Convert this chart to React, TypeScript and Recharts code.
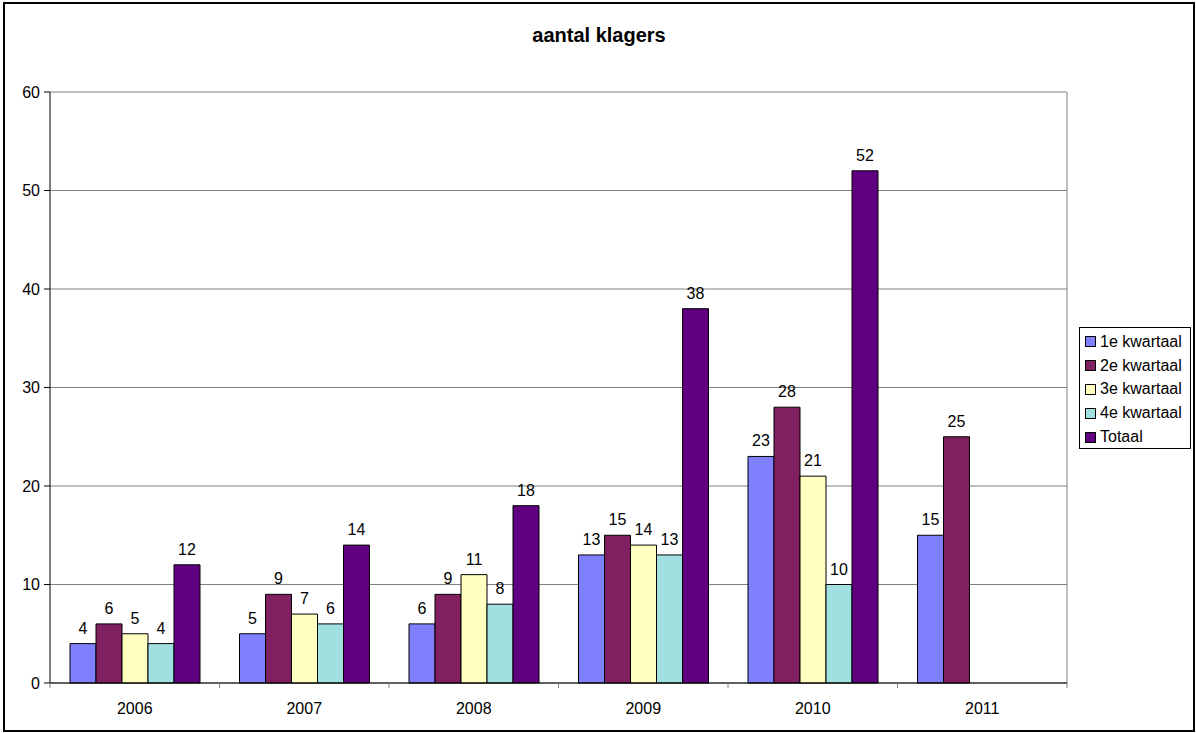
import React from 'react';
import {
  BarChart, Bar, XAxis, YAxis, CartesianGrid, LabelList,
} from 'recharts';

const years = ['2006', '2007', '2008', '2009', '2010', '2011'];
const q1 = [4, 5, 6, 13, 23, 15];
const q2 = [6, 9, 9, 15, 28, 25];
const q3 = [5, 7, 11, 14, 21, null];
const q4 = [4, 6, 8, 13, 10, null];
const totaal = [12, 14, 18, 38, 52, null];
const yTicks = [0, 10, 20, 30, 40, 50, 60];

const series = [
  { key: 'q1', name: '1e kwartaal', color: '#8080FF' },
  { key: 'q2', name: '2e kwartaal', color: '#802060' },
  { key: 'q3', name: '3e kwartaal', color: '#FFFFC0' },
  { key: 'q4', name: '4e kwartaal', color: '#A0E0E0' },
  { key: 'totaal', name: 'Totaal', color: '#600080' },
];

const data = years.map((year, i) => ({
  year,
  q1: q1[i],
  q2: q2[i],
  q3: q3[i],
  q4: q4[i],
  totaal: totaal[i],
}));

const FONT = '"Liberation Sans", Arial, sans-serif';
const TICK_SIZE = 6;
const TICK_MARGIN = 14;

// Excel-style category axis: tick marks sit between the categories
function YearTick(props: any) {
  const { x, y, payload, index, visibleTicksCount } = props;
  const half = payload.offset || 0;
  const axisY = y - TICK_SIZE - TICK_MARGIN;
  return (
    <g>
      <line x1={x - half} x2={x - half} y1={axisY} y2={axisY + 5} stroke="#808080" />
      {index === visibleTicksCount - 1 && (
        <line x1={x + half} x2={x + half} y1={axisY} y2={axisY + 5} stroke="#808080" />
      )}
      <text x={x} y={y} dy="0.71em" textAnchor="middle" fill="#000" fontSize={16} fontFamily={FONT}>
        {payload.value}
      </text>
    </g>
  );
}

function LegendBox() {
  return (
    <div style={{
      position: 'absolute', left: 1079, top: 327, width: 112, height: 122,
      border: '1px solid #000', background: '#fff', padding: '2px 0 0 5px',
      fontFamily: FONT, fontSize: 16, color: '#000', boxSizing: 'border-box',
    }}>
      {series.map(s => (
        <div key={s.key} style={{ display: 'flex', alignItems: 'center', height: 23.8, whiteSpace: 'nowrap' }}>
          <span style={{
            display: 'inline-block', width: 9, height: 9, background: s.color,
            border: '1px solid #000', marginRight: 4, flexShrink: 0,
          }} />
          <span>{s.name}</span>
        </div>
      ))}
    </div>
  );
}

export default function App() {
  return (
    <div style={{ position: 'absolute', left: 0, top: 0, width: 1196, height: 733, background: '#fff', fontFamily: FONT }}>
      <div style={{
        position: 'absolute', left: 3, top: 2, width: 1192, height: 730,
        border: '2px solid #000', boxSizing: 'border-box',
      }} />
      <div style={{
        position: 'absolute', left: 0, width: 1198, top: 24, textAlign: 'center',
        fontWeight: 'bold', fontSize: 20, color: '#000',
      }}>
        aantal klagers
      </div>
      <div style={{ position: 'absolute', left: 0, top: 0 }}>
        <BarChart
          width={1196}
          height={733}
          data={data}
          margin={{ top: 92, right: 129, left: 0, bottom: 20 }}
          barSize={26}
          barGap={0}
        >
          <CartesianGrid
            stroke="#808080"
            verticalCoordinatesGenerator={({ offset }: any) => [offset.left + offset.width]}
          />
          <XAxis
            dataKey="year"
            height={30}
            interval={0}
            tick={<YearTick />}
            tickLine={false}
            axisLine={{ stroke: '#000' }}
            tickSize={TICK_SIZE}
            tickMargin={TICK_MARGIN}
          />
          <YAxis
            width={50}
            domain={[0, 60]}
            ticks={yTicks}
            interval={0}
            tick={{ fill: '#000', fontSize: 16, fontFamily: FONT }}
            tickLine={{ stroke: '#000' }}
            axisLine={{ stroke: '#000' }}
            tickSize={6}
            tickMargin={4}
          />
          {series.map(s => (
            <Bar
              key={s.key}
              dataKey={s.key}
              name={s.name}
              fill={s.color}
              stroke="#000"
              strokeWidth={1}
              isAnimationActive={false}
            >
              <LabelList
                dataKey={s.key}
                position="top"
                offset={10}
                fill="#000"
                fontSize={16}
                fontFamily={FONT}
              />
            </Bar>
          ))}
        </BarChart>
      </div>
      <LegendBox />
    </div>
  );
}
